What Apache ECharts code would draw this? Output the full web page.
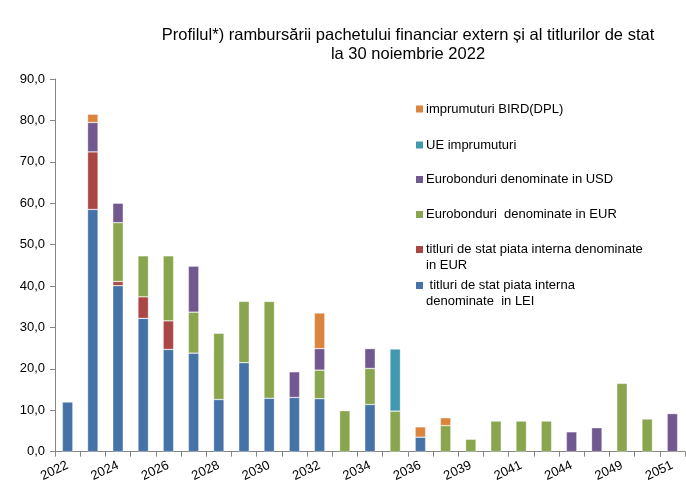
<!DOCTYPE html>
<html>
<head>
<meta charset="utf-8">
<script src="https://cdn.jsdelivr.net/npm/echarts@6/dist/echarts.min.js"></script>
<style>
  html, body { margin: 0; padding: 0; background: #fff; }
  #chart { width: 686px; height: 482px; }
</style>
</head>
<body>
<div id="chart"></div>
<script>
// ani scadente (categorii)
const years = ['2022', '2023', '2024', '2025', '2026', '2027', '2028', '2029', '2030', '2031',
  '2032', '2033', '2034', '2035', '2036', '2037', '2039', '2040', '2041', '2042',
  '2044', '2047', '2049', '2050', '2051'];

// valori, mld.
const leiInterna = [12.0, 58.5, 40.1, 32.2, 24.7, 23.8, 12.6, 21.5, 12.9, 13.1,
  12.8, null, 11.4, null, 3.5, null, null, null, null, null, null, null, null, null, null];
const eurInterna = [null, 13.9, 1.0, 5.2, 6.9, null, null, null, null, null,
  null, null, null, null, null, null, null, null, null, null, null, null, null, null, null];
const euroEur = [null, null, 14.2, 9.9, 15.7, 9.9, 16.0, 14.8, 23.4, null,
  6.9, 9.9, 8.7, 9.8, null, 6.3, 3.0, 7.4, 7.4, 7.4, null, null, 16.5, 7.9, null];
const euroUsd = [null, 7.1, 4.7, null, null, 11.1, null, null, null, 6.2,
  5.2, null, 4.8, null, null, null, null, null, null, null, 4.8, 5.8, null, null, 9.2];
const ueImpr = [null, null, null, null, null, null, null, null, null, null,
  null, null, null, 15.0, null, null, null, null, null, null, null, null, null, null, null];
const bird = [null, 2.0, null, null, null, null, null, null, null, null,
  8.6, null, null, null, 2.5, 1.9, null, null, null, null, null, null, null, null, null];

const yTicks = [0, 90, 10]; // min, max, pas

const chart = echarts.init(document.getElementById('chart'));

const FONT = 'Liberation Sans';
const squareTop = 'path://M0,0h7v7h-7z M0,22.95h0.05v0.05h-0.05z';

const mkSeries = (name, data, color) => ({
  name: name,
  type: 'bar',
  stack: 'total',
  data: data,
  barWidth: 10.5,
  itemStyle: { color: color, borderColor: 'rgba(255,255,255,0.55)', borderWidth: 0.6 },
});

const mkLegend = (name, top, multi) => ({
  data: [name],
  orient: 'vertical',
  left: 416,
  top: top,
  padding: 0,
  itemWidth: 7,
  itemHeight: multi ? 23 : 7,
  icon: multi ? squareTop : 'rect',
  itemStyle: { borderWidth: 0 },
  selectedMode: false,
  textStyle: { fontFamily: FONT, fontSize: 13, color: '#000', lineHeight: 16, padding: [0, 0, 0, -2] },
});

const option = {
  animation: false,
  title: {
    text: 'Profilul*) rambursării pachetului financiar extern și al titlurilor de stat\nla 30 noiembrie 2022',
    left: 403,
    top: 21,
    textAlign: 'center',
    textStyle: { fontFamily: FONT, fontSize: 16.5, fontWeight: 'normal', color: '#000', lineHeight: 19 },
  },
  legend: [
    mkLegend('imprumuturi BIRD(DPL)', 101, false),
    mkLegend('UE imprumuturi', 137, false),
    mkLegend('Eurobonduri denominate in USD', 171.5, false),
    mkLegend('Eurobonduri  denominate in EUR', 206.5, false),
    mkLegend('titluri de stat piata interna denominate\nin EUR', 241.5, true),
    mkLegend(' titluri de stat piata interna\ndenominate  in LEI', 277.5, true),
  ],
  grid: { left: 55, right: 1, top: 79, bottom: 30.3, containLabel: false, outerBoundsMode: 'none' },
  xAxis: {
    type: 'category',
    data: years,
    axisLine: { lineStyle: { color: '#868686', width: 1 } },
    axisTick: { show: true, interval: 0, length: 5, lineStyle: { color: '#868686' } },
    axisLabel: { interval: 1, rotate: 25, margin: 13, fontFamily: FONT, fontSize: 13, color: '#000' },
    splitLine: { show: false },
  },
  yAxis: {
    type: 'value',
    min: yTicks[0],
    max: yTicks[1],
    interval: yTicks[2],
    axisLine: { show: true, lineStyle: { color: '#868686', width: 1 } },
    axisTick: { show: true, length: 5, lineStyle: { color: '#868686' } },
    axisLabel: {
      margin: 10,
      fontFamily: FONT,
      fontSize: 13,
      color: '#000',
      formatter: (v) => v.toFixed(1).replace('.', ','),
    },
    splitLine: { show: false },
  },
  series: [
    mkSeries(' titluri de stat piata interna\ndenominate  in LEI', leiInterna, '#4572A7'),
    mkSeries('titluri de stat piata interna denominate\nin EUR', eurInterna, '#AA4643'),
    mkSeries('Eurobonduri  denominate in EUR', euroEur, '#89A54E'),
    mkSeries('Eurobonduri denominate in USD', euroUsd, '#71588F'),
    mkSeries('UE imprumuturi', ueImpr, '#4198AF'),
    mkSeries('imprumuturi BIRD(DPL)', bird, '#DB843D'),
  ],
};

chart.setOption(option);
</script>
</body>
</html>
